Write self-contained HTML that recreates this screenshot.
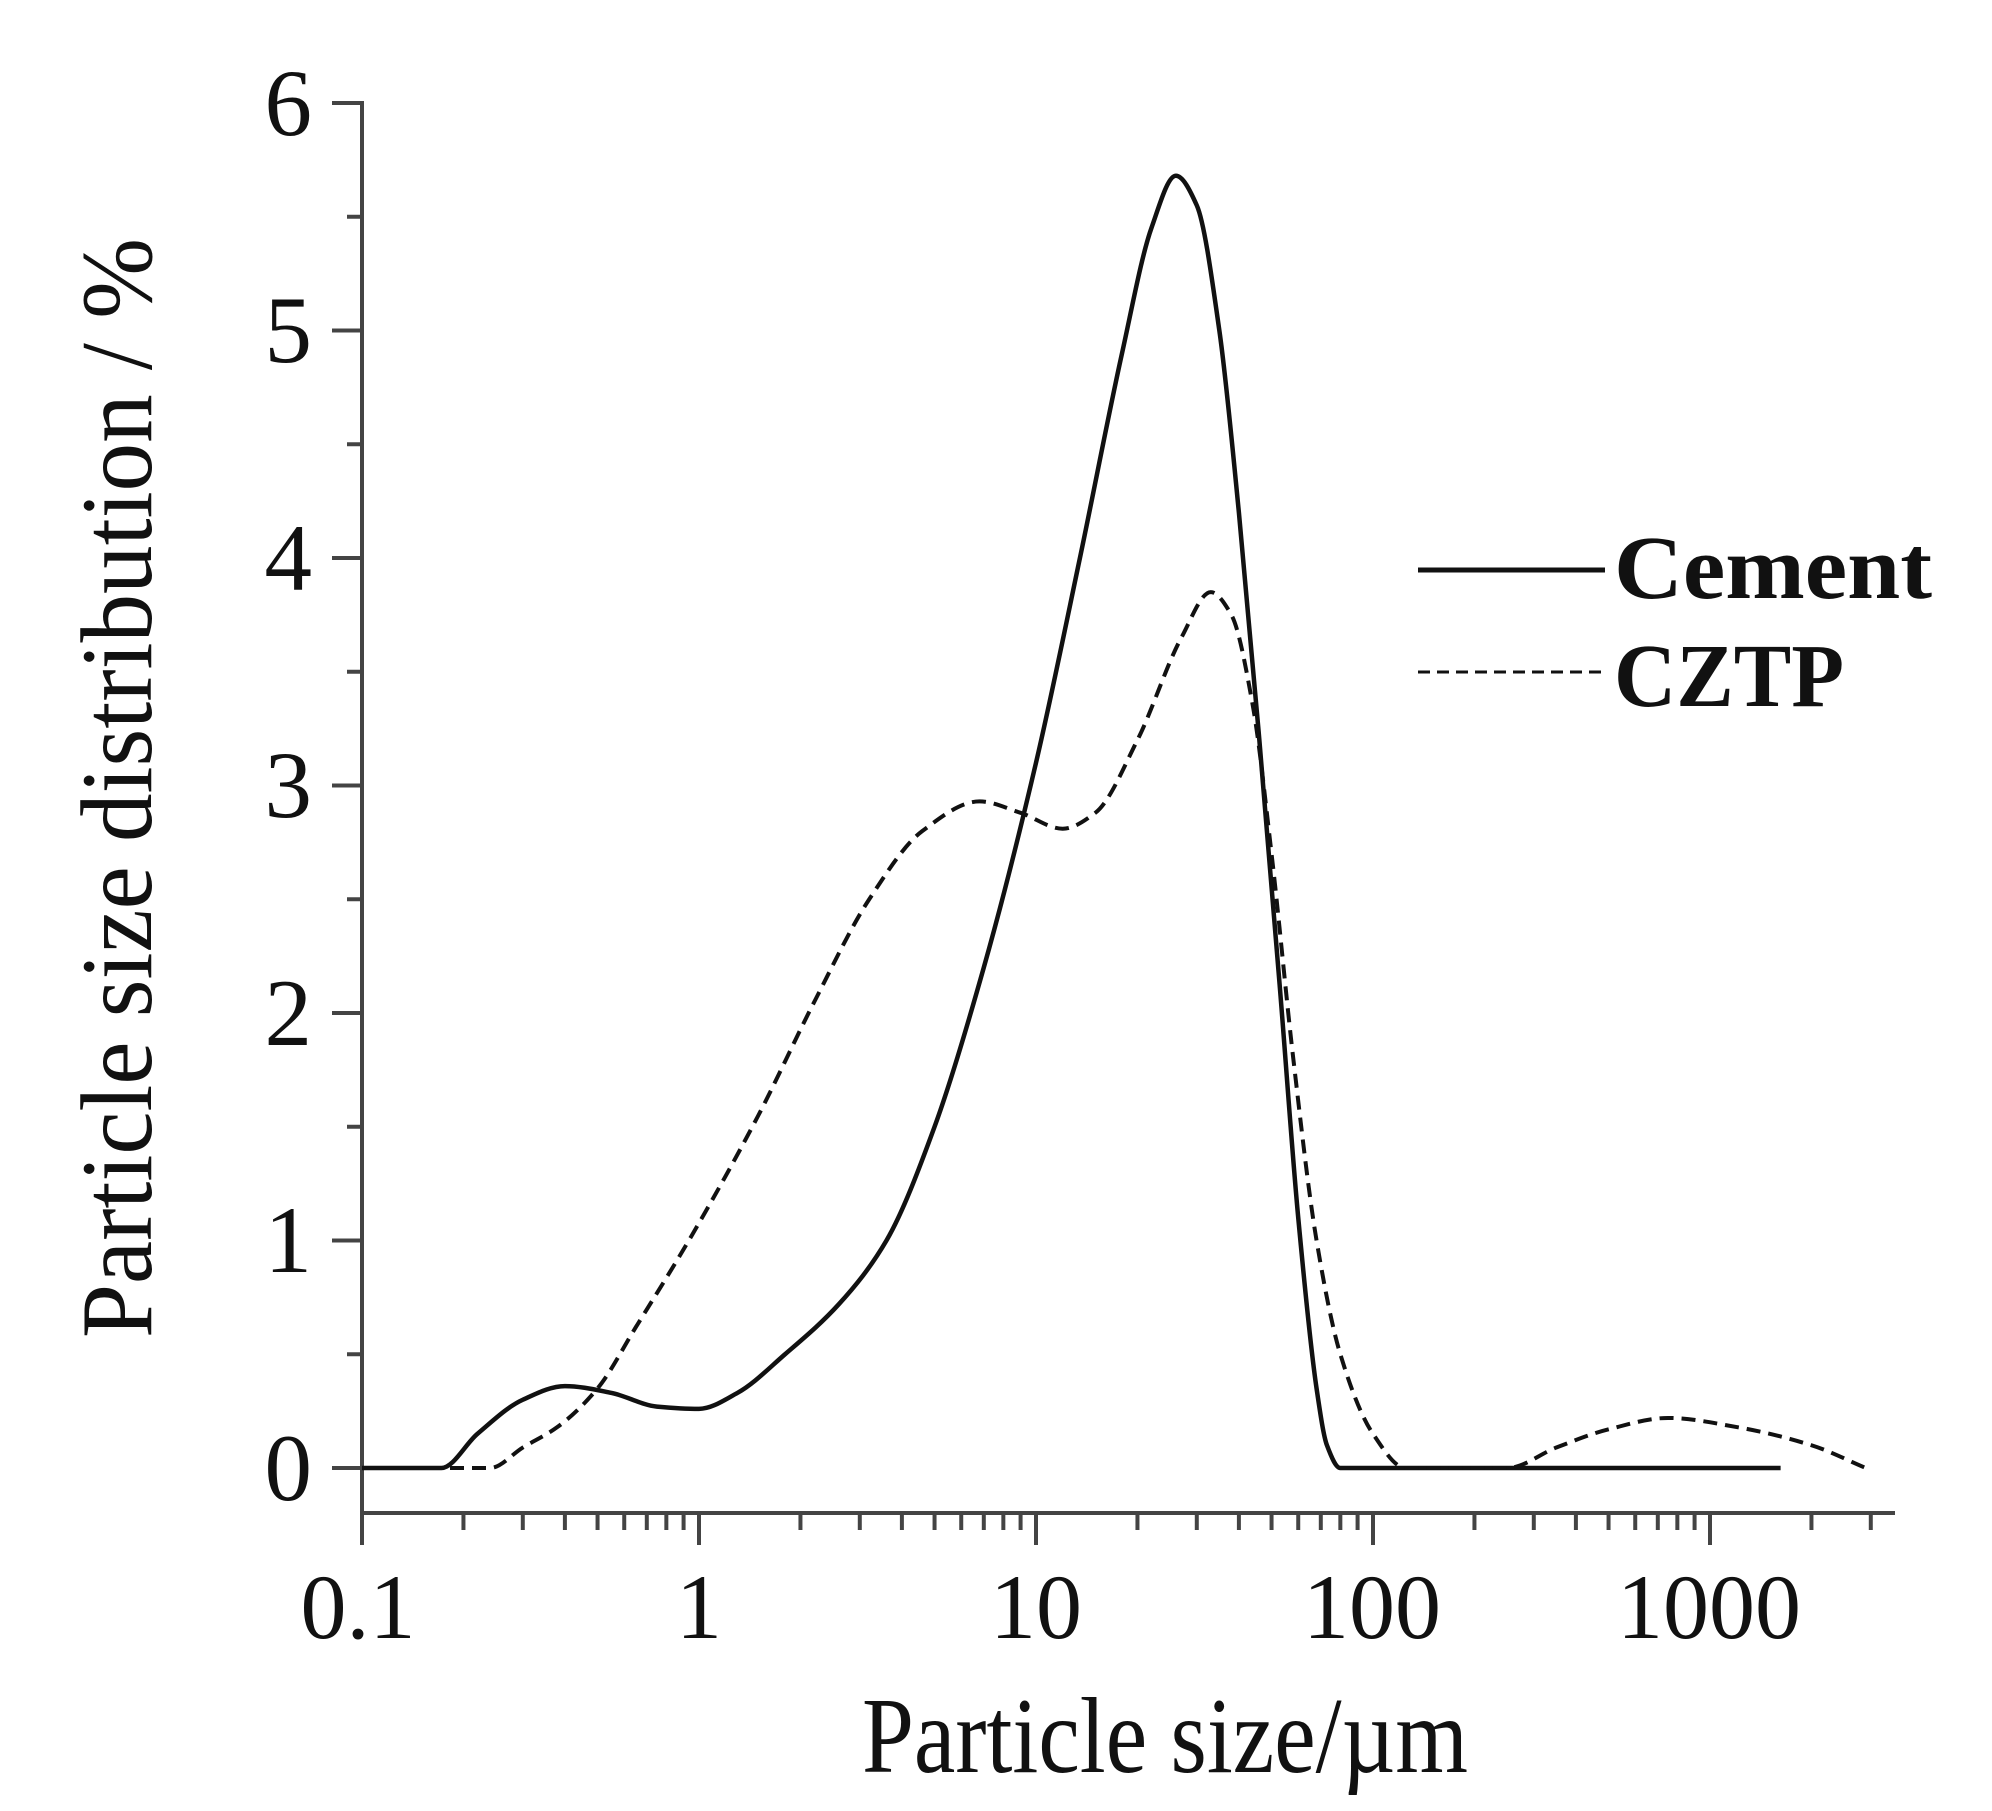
<!DOCTYPE html>
<html><head><meta charset="utf-8"><style>
html,body{margin:0;padding:0;background:#fff;}
svg{display:block;}
text{font-family:"Liberation Serif",serif;fill:#111;}
</style></head><body>
<svg id="s" width="1992" height="1811" viewBox="0 0 1992 1811" xmlns="http://www.w3.org/2000/svg">
<g id="axes" stroke="#444" stroke-width="4" fill="none">
<line x1="362" y1="101" x2="362" y2="1545"/>
<line x1="360" y1="1513" x2="1895" y2="1513"/>
</g>
<g id="ticks" stroke="#444" stroke-width="4"></g>
<g font-size="95" text-anchor="end">
<text x="312" y="1500">0</text><text x="312" y="1272">1</text><text x="312" y="1045">2</text>
<text x="312" y="817">3</text><text x="312" y="590">4</text><text x="312" y="362">5</text><text x="312" y="135">6</text>
</g>
<g font-size="92" text-anchor="middle">
<text x="358" y="1638">0.1</text><text x="699" y="1638">1</text><text x="1036" y="1638">10</text>
<text x="1372" y="1638">100</text><text x="1709" y="1638">1000</text>
</g>
<text x="862" y="1772" font-size="108" textLength="606" lengthAdjust="spacingAndGlyphs">Particle size/µm</text>
<text transform="translate(151,1338) rotate(-90)" font-size="102" textLength="1100" lengthAdjust="spacingAndGlyphs">Particle size distribution / %</text>
<line x1="1418" y1="570" x2="1605" y2="570" stroke="#111" stroke-width="5"/>
<line x1="1418" y1="672" x2="1605" y2="672" stroke="#111" stroke-width="3" stroke-dasharray="12 7"/>
<text x="1614" y="598" font-size="90" font-weight="bold" textLength="318" lengthAdjust="spacingAndGlyphs">Cement</text>
<text x="1614" y="706" font-size="90" font-weight="bold" textLength="230" lengthAdjust="spacingAndGlyphs">CZTP</text>
<path id="c1" fill="none" stroke="#111" stroke-width="4.5"/>
<path id="c2" fill="none" stroke="#111" stroke-width="4" stroke-dasharray="14 8"/>
</svg>
<script>
function X(v){return 362+337*(Math.log10(v)+1);}
function Y(v){return 1468-227.5*v;}
var t=document.getElementById('ticks'),h='';
for(var i=0;i<=12;i++){var y=1468-113.75*i;var l=(i%2==0)?332:347;h+='<line x1="'+l+'" y1="'+y+'" x2="362" y2="'+y+'"/>';}
for(var d=-1;d<=3;d++){for(var m=1;m<=9;m++){var v=m*Math.pow(10,d);var x=X(v);if(x>1893)break;var L=(m==1)?1545:1530;h+='<line x1="'+x+'" y1="1513" x2="'+x+'" y2="'+L+'"/>';}}
t.innerHTML=h;
function path(pts){
var p=pts.map(function(a){return[X(a[0]),Y(a[1])];});var n=p.length;
var dx=[],s=[],m=[];
for(var i=0;i<n-1;i++){dx[i]=p[i+1][0]-p[i][0];s[i]=(p[i+1][1]-p[i][1])/dx[i];}
m[0]=s[0];m[n-1]=s[n-2];
for(i=1;i<n-1;i++){if(s[i-1]*s[i]<=0)m[i]=0;else{var w1=2*dx[i]+dx[i-1],w2=dx[i]+2*dx[i-1];m[i]=(w1+w2)/(w1/s[i-1]+w2/s[i]);}}
var str='M'+p[0][0]+' '+p[0][1];
for(i=0;i<n-1;i++){var h3=dx[i]/3;
str+=' C'+(p[i][0]+h3)+' '+(p[i][1]+m[i]*h3)+' '+(p[i+1][0]-h3)+' '+(p[i+1][1]-m[i+1]*h3)+' '+p[i+1][0]+' '+p[i+1][1];}
return str;}
var cem=[[0.1,0],[0.172,0],[0.22,0.15],[0.3,0.3],[0.4,0.36],[0.55,0.33],[0.75,0.27],[1.0,0.26],[1.3,0.33],[1.8,0.5],[2.6,0.72],[3.6,1.0],[5,1.5],[7,2.2],[10,3.1],[13.5,4.0],[18,4.9],[22,5.45],[26,5.68],[30,5.55],[35,5.0],[40,4.2],[46,3.2],[53,2.1],[60,1.1],[68,0.35],[73,0.1],[80,0],[1620,0]];
var cz=[[0.1,0],[0.24,0],[0.3,0.09],[0.38,0.18],[0.5,0.35],[0.65,0.62],[0.95,1.02],[1.5,1.55],[2.2,2.05],[3.2,2.5],[4.6,2.8],[6.8,2.93],[9,2.88],[12,2.81],[15,2.88],[20,3.2],[27,3.65],[33,3.85],[38,3.75],[44,3.35],[50,2.7],[58,1.8],[68,1.0],[80,0.5],[100,0.15],[125,0],[250,0],[350,0.09],[500,0.17],[750,0.22],[1200,0.18],[2000,0.1],[2900,0]];
document.getElementById('c1').setAttribute('d',path(cem));
document.getElementById('c2').setAttribute('d',path(cz));
</script>
</body></html>
